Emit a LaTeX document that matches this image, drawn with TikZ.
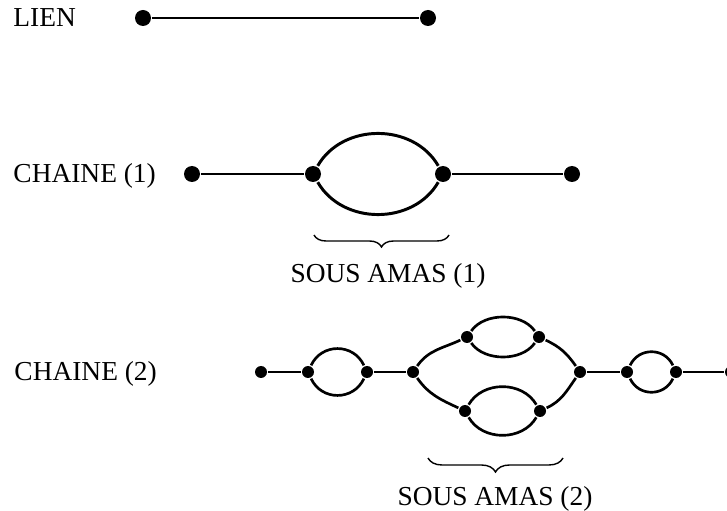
\documentclass[tikz,border=0pt]{standalone}
\usepackage{fontspec}
\setmainfont{Liberation Serif}
\usetikzlibrary{decorations.pathreplacing}
\tikzset{
  dot/.style={circle,fill,inner sep=0pt,minimum size=4mm},
  sdot/.style={circle,fill,inner sep=0pt,minimum size=3mm},
  lbl/.style={inner sep=0pt,font=\fontsize{19.5}{23}\selectfont},
  accol/.style={decorate,decoration={brace,mirror,amplitude=3mm},line width=1pt}
}
\begin{document}
\begin{tikzpicture}[line width=2.1pt]
  \useasboundingbox (0,0) rectangle (18.175,12.75);

  \node[lbl,anchor=base west] (tlien) at (0.3,12.075) {LIEN};
  \node[dot] (l1) at (3.575,12.3) {};
  \node[dot] (l2) at (10.7,12.3) {};
  \draw (l1) -- (l2);

  \node[lbl,anchor=base west] (tch1) at (0.3,8.175) {CHAINE (1)};
  \node[dot] (a1) at (4.8,8.4) {};
  \node[dot] (a2) at (7.825,8.4) {};
  \node[dot] (a3) at (11.075,8.4) {};
  \node[dot] (a4) at (14.3,8.4) {};
  \draw (a1) -- (a2) (a3) -- (a4);
  \draw (a2) to[out=60,in=120,looseness=1.06] (a3);
  \draw (a2) to[out=-60,in=-120,looseness=1.06] (a3);
  \coordinate (s1) at (7.85,6.875);
  \coordinate (s2) at (11.225,6.875);
  \draw[accol] (s1) -- (s2);
  \node[lbl,anchor=base] (tsa1) at (9.7,5.675) {SOUS AMAS (1)};

  \node[lbl,anchor=base west] (tch2) at (0.325,3.25) {CHAINE (2)};
  \begin{scope}[line width=1.9pt]
  \node[sdot] (b1) at (6.525,3.45) {};
  \node[sdot] (b2) at (7.7,3.45) {};
  \node[sdot] (b3) at (9.175,3.45) {};
  \node[sdot] (b4) at (10.325,3.45) {};
  \node[sdot] (u1) at (11.675,4.325) {};
  \node[sdot] (u2) at (13.475,4.325) {};
  \node[sdot] (d1) at (11.625,2.475) {};
  \node[sdot] (d2) at (13.5,2.475) {};
  \node[sdot] (b5) at (14.5,3.45) {};
  \node[sdot] (b6) at (15.675,3.45) {};
  \node[sdot] (b7) at (16.9,3.45) {};
  \node[sdot] (b8) at (18.275,3.45) {};
  \draw (b1) -- (b2) (b3) -- (b4) (b5) -- (b6) (b7) -- (b8);
  \draw (b2) to[out=65,in=115,looseness=1.2] (b3);
  \draw (b2) to[out=-65,in=-115,looseness=1.2] (b3);
  \draw (b6) to[out=65,in=115,looseness=1.2] (b7);
  \draw (b6) to[out=-65,in=-115,looseness=1.2] (b7);
  \draw (u1) to[out=55,in=125,looseness=0.92] (u2);
  \draw (u1) to[out=-55,in=-125,looseness=0.92] (u2);
  \draw (d1) to[out=60,in=120,looseness=1.05] (d2);
  \draw (d1) to[out=-60,in=-120,looseness=1.05] (d2);
  \draw (b4) to[out=55,in=205] (u1);
  \draw (u2) to[out=-25,in=125] (b5);
  \draw (b4) to[out=-55,in=155] (d1);
  \draw (d2) to[out=25,in=-125] (b5);
  \end{scope}
  \coordinate (s3) at (10.7,1.3);
  \coordinate (s4) at (14.075,1.3);
  \draw[accol,decoration={amplitude=3.5mm}] (s3) -- (s4);
  \node[lbl,anchor=base] (tsa2) at (12.375,0.125) {SOUS AMAS (2)};
\end{tikzpicture}
\end{document}
